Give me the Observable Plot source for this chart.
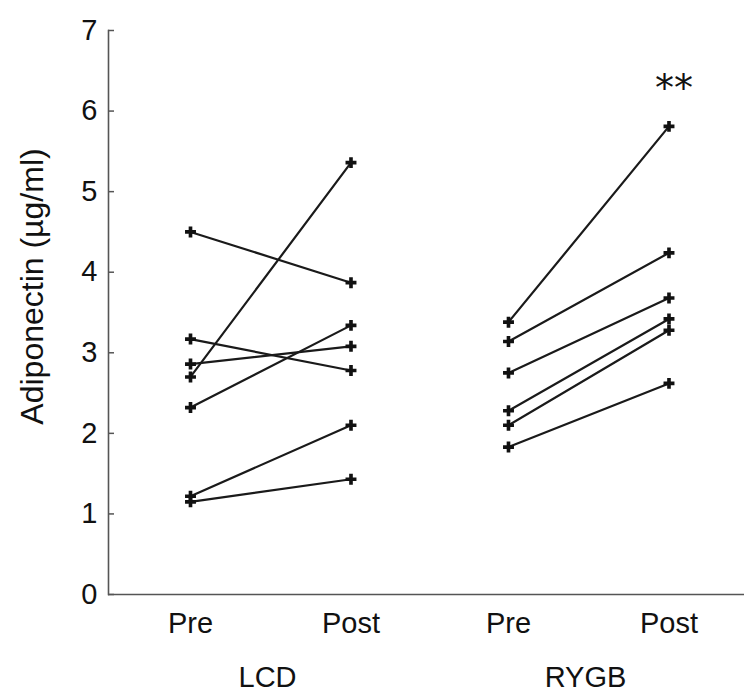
<!DOCTYPE html>
<html>
<head>
<meta charset="utf-8">
<script src="https://cdn.jsdelivr.net/npm/d3@7"></script>
<script src="https://cdn.jsdelivr.net/npm/@observablehq/plot@0.6"></script>
<style>
  html, body { margin: 0; padding: 0; background: #fff; }
</style>
</head>
<body>
<div id="chart"></div>
<script>
// ---- data ----
const groups = ["LCD", "RYGB"];
const times = ["Pre", "Post"];
const yTicks = [0, 1, 2, 3, 4, 5, 6, 7];
const yLabel = "Adiponectin (µg/ml)";
const lcdPre  = [4.50, 3.17, 2.86, 2.70, 2.32, 1.22, 1.15];
const lcdPost = [3.87, 2.78, 3.08, 5.36, 3.34, 2.10, 1.43];
const rygbPre  = [3.38, 3.14, 2.75, 2.28, 2.10, 1.83];
const rygbPost = [5.81, 4.24, 3.68, 3.42, 3.28, 2.62];
const sigGroup = "RYGB";
const sigTime = "Post";
const sigLabel = "**";

// ---- build table ----
const rows = [];
function addGroup(group, pre, post) {
  pre.forEach((v, i) => {
    rows.push({group, id: group + i, time: "Pre", value: v});
    rows.push({group, id: group + i, time: "Post", value: post[i]});
  });
}
addGroup("LCD", lcdPre, lcdPost);
addGroup("RYGB", rygbPre, rygbPost);
const sig = [{group: sigGroup, time: sigTime, value: d3.max(rygbPost), label: sigLabel}];
const yTitle = [{group: groups[0], label: yLabel}];

const chart = Plot.plot({
  width: 744,
  height: 698,
  marginLeft: 108,
  marginRight: 0,
  marginTop: 30,
  marginBottom: 104,
  style: {fontFamily: "'Liberation Sans', Arial, Helvetica, sans-serif", fontSize: "29px", color: "#111", background: "#fff"},
  fx: {domain: groups, paddingInner: 0, paddingOuter: 0, round: false},
  x: {type: "point", domain: times, padding: 0.4907, align: 0.5206, round: false},
  y: {domain: [0, 7]},
  marks: [
    Plot.ruleY([0], {stroke: "#555", strokeWidth: 1.6}),
    Plot.frame({anchor: "left", facetAnchor: "left", stroke: "#555", strokeWidth: 1.6}),
    Plot.axisY({ticks: yTicks, tickFormat: d3.format("d"), tickSize: -6, tickPadding: 17, stroke: "#555", strokeWidth: 1.5,
      label: null, fill: "#111"}),
    Plot.text(yTitle, {fx: "group", frameAnchor: "left", textAnchor: "middle", text: "label", rotate: -90, dx: -76, dy: -26, fontSize: 32, fill: "#111"}),
    Plot.axisX({anchor: "bottom", tickSize: 0, tickPadding: 18, label: null, fill: "#111"}),
    Plot.axisFx({anchor: "bottom", tickSize: 0, tickPadding: 72, label: null, fill: "#111"}),
    Plot.line(rows, {fx: "group", x: "time", y: "value", z: "id", stroke: "#1a1a1a", strokeWidth: 2.2}),
    Plot.dot(rows, {fx: "group", x: "time", y: "value", symbol: "cross", r: 4.6, fill: "#111", stroke: "none"}),
    Plot.text(sig, {fx: "group", x: "time", y: "value", text: "label", dy: -38, dx: 5, fontSize: 38,
      fontFamily: "'DejaVu Sans', sans-serif", fill: "#111"})
  ]
});
document.getElementById("chart").appendChild(chart);
</script>
</body>
</html>
